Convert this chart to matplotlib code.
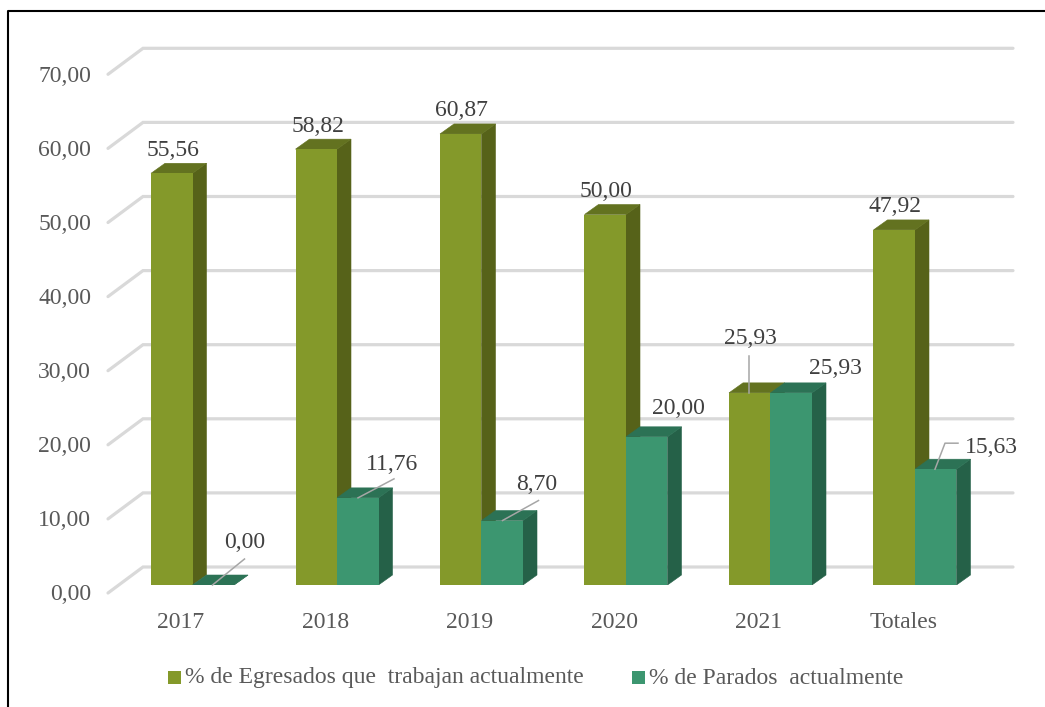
import matplotlib
matplotlib.use("Agg")
import matplotlib.pyplot as plt
from matplotlib.patches import Polygon, Rectangle
from matplotlib.lines import Line2D

categories = ["2017", "2018", "2019", "2020", "2021", "Totales"]
egresados = [55.56, 58.82, 60.87, 50.00, 25.93, 47.92]
parados = [0.00, 11.76, 8.70, 20.00, 25.93, 15.63]
yticks = [0, 10, 20, 30, 40, 50, 60, 70]
series_names = ["% de Egresados que  trabajan actualmente", "% de Parados  actualmente"]

W, H = 1045, 707
plt.rcParams['font.family'] = ['Liberation Serif', 'DejaVu Serif']
fig = plt.figure(figsize=(W / 100, H / 100), dpi=100)
fig.patch.set_facecolor('white')

PX_X0, PX_X1 = 120.25, 987.25
PX_Y0, PX_Y70 = 585.0, 66.3
ax = fig.add_axes([PX_X0 / W, 1 - PX_Y0 / H, (PX_X1 - PX_X0) / W, (PX_Y0 - PX_Y70) / H])
ax.set_xlim(-0.5, 5.5)
ax.set_ylim(0, 70)
ax.axis('off')

ux = (PX_X1 - PX_X0) / 6
uy = (PX_Y0 - PX_Y70) / 70
def px(dx=0, dy=0):
    return dx / ux, dy / uy

bw = 41.5 / ux
ddx, ddy = px(14, 10)
FS = 17

# gridlines with the floor/wall perspective
fx, fy = -0.5 + (108 - PX_X0) / ux, -8 / uy
bx, by = -0.5 + (143 - PX_X0) / ux, 18 / uy
rx = -0.5 + (1013 - PX_X0) / ux
for v in yticks:
    ax.plot([fx, bx, rx], [v + fy, v + by, v + by], color='#d9d9d9', lw=2.3,
            solid_capstyle='round', solid_joinstyle='miter', clip_on=False, zorder=1)
    ax.text(-0.5 + (91 - PX_X0) / ux, v + fy - 2 / uy, f"{v:.2f}".replace('.', ','), ha='right', va='center',
            fontsize=FS, color='#595959', clip_on=False)

def bar3d(x, v, face, top, side, z):
    ax.add_patch(Polygon([(x + bw, 0), (x + bw + ddx, ddy), (x + bw + ddx, v + ddy), (x + bw, v)],
                         fc=side, ec=side, lw=0.4, zorder=z))
    ax.add_patch(Polygon([(x, v), (x + ddx, v + ddy), (x + bw + ddx, v + ddy), (x + bw, v)],
                         fc=top, ec=top, lw=0.4, zorder=z))
    ax.bar(x, v, width=bw, align='edge', color=face, zorder=z + 0.1)

OLIVE = ('#84992a', '#637220', '#566219')
TEAL = ('#3c9670', '#2c7255', '#256148')
for i, (a, b) in enumerate(zip(egresados, parados)):
    bar3d(i - bw, a, *OLIVE, 2)
    bar3d(i, b, *TEAL, 3)

# data labels: pixel offsets relative to each bar's centre/top
label_col = '#404040'
leader = '#a6a6a6'
lab_e = [(-20, 23), (-19, 23), (-20, 23), (-20, 23), (-20, 54), (-20, 23)]
lab_p = [(52, 43), (55, 33), (55, 36), (52, 28), (65, 24), (76, 22)]
for i, (a, b) in enumerate(zip(egresados, parados)):
    dx, dy = px(*lab_e[i])
    ax.text(i + dx, a + dy, f"{a:.2f}".replace('.', ','), ha='center', va='center', fontsize=FS,
            color=label_col, zorder=6)
    dx, dy = px(*lab_p[i])
    ax.text(i + dx, b + dy, f"{b:.2f}".replace('.', ','), ha='center', va='center', fontsize=FS,
            color=label_col, zorder=6)

# leader lines (pixel offsets from the bar's front top edge)
def lead(i, v, pts):
    xs = [i + p[0] / ux for p in pts]
    ys = [v + p[1] / uy for p in pts]
    ax.plot(xs, ys, color=leader, lw=1.1, zorder=7, clip_on=False)

lead(0, parados[0], [(20, 0), (52, 26)])
lead(1, parados[1], [(21, 0), (57, 19)])
lead(2, parados[2], [(21, 0), (57, 20)])
lead(4, egresados[4], [(-21, 0), (-21, 37)])
lead(5, parados[5], [(20, 0), (30, 26), (43, 26)])

# category labels
for i, c in enumerate(categories):
    ax.text(i - 11.5 / ux, -37 / uy, c, ha='center', va='center', fontsize=FS, color='#595959', clip_on=False)

# legend
def fig_text(x, y, s):
    fig.text(x / W, 1 - y / H, s, ha='left', va='center', fontsize=FS, color='#595959')
fig.add_artist(Rectangle((168 / W, 1 - 684 / H), 13 / W, 13 / H, transform=fig.transFigure, fc=OLIVE[0], ec='none'))
fig_text(185, 678, series_names[0])
fig.add_artist(Rectangle((632 / W, 1 - 684 / H), 13 / W, 13 / H, transform=fig.transFigure, fc=TEAL[0], ec='none'))
fig_text(649, 678, series_names[1])

# outer frame
fig.add_artist(Line2D([8 / W, 8 / W, 1], [0, 1 - 11 / H, 1 - 11 / H], transform=fig.transFigure,
                      color='black', lw=1.5))

fig.savefig('out.png', dpi=100)
